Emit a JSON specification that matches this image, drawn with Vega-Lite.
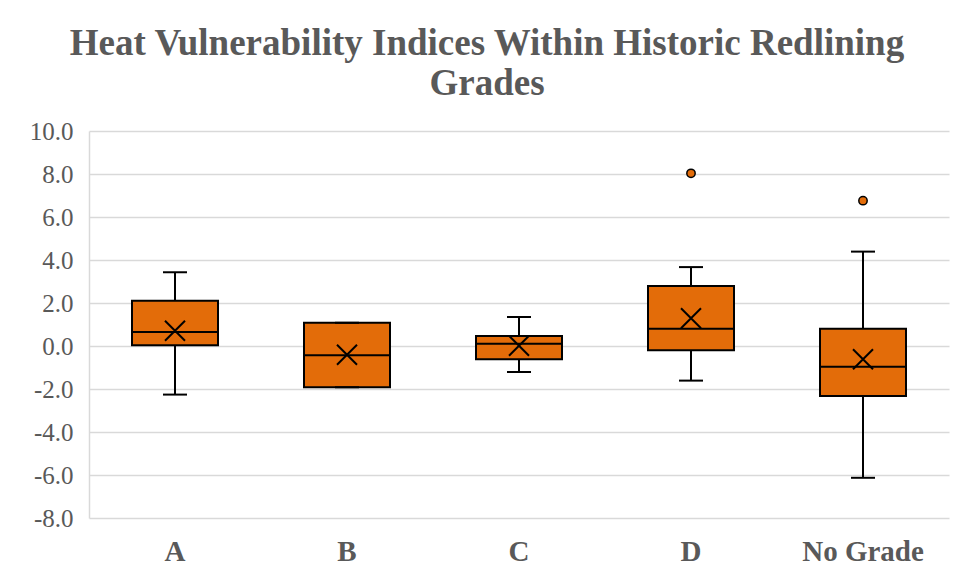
{
  "$schema": "https://vega.github.io/schema/vega-lite/v6.json",
  "width": 860,
  "height": 387,
  "autosize": "none",
  "padding": {"left": 89, "top": 131, "right": 5, "bottom": 62},
  "background": "white",
  "config": {"view": {"stroke": null}},
  "title": {
    "text": ["Heat Vulnerability Indices Within Historic Redlining", "Grades"],
    "font": "Liberation Serif",
    "fontSize": 37,
    "fontWeight": "bold",
    "color": "#595959",
    "anchor": "middle",
    "lineHeight": 40,
    "offset": 16,
    "dx": -32
  },
  "data": {
    "values": [
      {"grade": "A", "min": -2.26, "q1": 0.03, "median": 0.65, "q3": 2.11, "max": 3.43, "mean": 0.71},
      {"grade": "B", "min": -1.92, "q1": -1.92, "median": -0.43, "q3": 1.08, "max": 1.08, "mean": -0.41},
      {"grade": "C", "min": -1.21, "q1": -0.62, "median": 0.11, "q3": 0.47, "max": 1.35, "mean": 0.01},
      {"grade": "D", "min": -1.61, "q1": -0.2, "median": 0.8, "q3": 2.79, "max": 3.67, "mean": 1.29},
      {"grade": "No Grade", "min": -6.13, "q1": -2.33, "median": -0.96, "q3": 0.8, "max": 4.39, "mean": -0.62}
    ]
  },
  "encoding": {
    "x": {
      "field": "grade",
      "type": "nominal",
      "sort": ["A", "B", "C", "D", "No Grade"],
      "scale": {"paddingInner": 0, "paddingOuter": 0},
      "axis": {
        "title": null,
        "domain": false,
        "ticks": false,
        "labelAngle": 0,
        "labelFont": "Liberation Serif",
        "labelFontSize": 29,
        "labelFontWeight": "bold",
        "labelColor": "#595959",
        "labelPadding": 19
      }
    }
  },
  "layer": [
    {
      "mark": {"type": "rule", "stroke": "black", "strokeWidth": 2},
      "encoding": {
        "y": {
          "field": "min",
          "type": "quantitative",
          "scale": {"domain": [-8, 10], "nice": false, "zero": false},
          "axis": {
            "title": null,
            "values": [-8, -6, -4, -2, 0, 2, 4, 6, 8, 10],
            "labelExpr": "replace(format(datum.value, '.1f'), '\u2212', '-')",
            "domain": true,
            "domainColor": "#d9d9d9",
            "domainWidth": 1.5,
            "ticks": false,
            "grid": true,
            "gridColor": "#d9d9d9",
            "gridWidth": 1.5,
            "labelFont": "Liberation Serif",
            "labelFontSize": 25,
            "labelColor": "#595959",
            "labelPadding": 16
          }
        },
        "y2": {"field": "max"}
      }
    },
    {
      "mark": {"type": "bar", "width": {"band": 0.5}, "fill": "#E36C09", "stroke": "black", "strokeWidth": 2},
      "encoding": {
        "y": {"field": "q1", "type": "quantitative"},
        "y2": {"field": "q3"}
      }
    },
    {
      "mark": {"type": "tick", "size": 86, "thickness": 2, "color": "black", "opacity": 1},
      "encoding": {"y": {"field": "median", "type": "quantitative"}}
    },
    {
      "mark": {"type": "tick", "size": 24, "thickness": 2, "color": "black", "opacity": 1},
      "encoding": {"y": {"field": "min", "type": "quantitative"}}
    },
    {
      "mark": {"type": "tick", "size": 24, "thickness": 2, "color": "black", "opacity": 1},
      "encoding": {"y": {"field": "max", "type": "quantitative"}}
    },
    {
      "mark": {"type": "point", "shape": "M-1,-1L1,1M1,-1L-1,1", "size": 400, "stroke": "black", "strokeWidth": 2, "filled": false, "opacity": 1},
      "encoding": {"y": {"field": "mean", "type": "quantitative"}}
    },
    {
      "data": {"values": [{"grade": "D", "value": 8.03}, {"grade": "No Grade", "value": 6.76}]},
      "mark": {"type": "point", "shape": "circle", "size": 70, "filled": true, "fill": "#E36C09", "stroke": "black", "strokeWidth": 1.5, "opacity": 1},
      "encoding": {"y": {"field": "value", "type": "quantitative"}}
    }
  ]
}
